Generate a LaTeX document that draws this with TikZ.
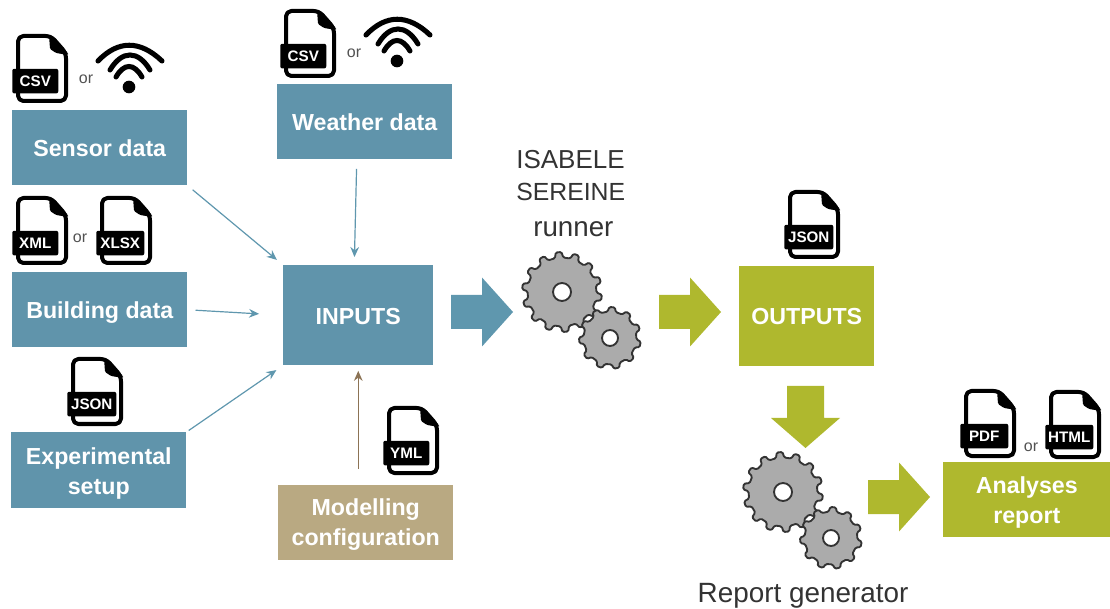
\documentclass[tikz,border=0pt]{standalone}
\usepackage{fontspec}
\setmainfont{Liberation Sans}
\definecolor{tealbox}{HTML}{6094AB}
\definecolor{greenbox}{HTML}{AFB82E}
\definecolor{tanbox}{HTML}{B9A982}
\definecolor{tealline}{HTML}{5F97AE}
\definecolor{brownline}{HTML}{8C7355}
\definecolor{gearfill}{HTML}{ABABAB}
\definecolor{geartext}{HTML}{333333}
\usetikzlibrary{arrows.meta}
\tikzset{
  x=0.75pt,y=-0.75pt,
  databox/.style={anchor=north west,inner sep=0pt,align=center,text=white,font=\fontsize{17.4pt}{22.5pt}\selectfont\bfseries},
  filebody/.style={draw=black,line width=3pt,line join=round,rounded corners=4pt,fill=white},
  filetag/.style={anchor=north west,fill=black,text=white,rounded corners=1.5pt,inner sep=0pt,minimum height=18.5pt,font=\fontsize{11.4pt}{12pt}\selectfont\bfseries},
  ortext/.style={text=geartext!85!white,font=\fontsize{12pt}{14pt}\selectfont,inner sep=0pt},
  wave/.style={draw=black,line width=3.8pt,line cap=round},
  thinarrow/.style={draw=tealline,line width=0.9pt,-{Stealth[length=7.5pt,width=6.5pt]}},
  brownarrow/.style={draw=brownline,line width=0.9pt,-{Stealth[length=7.5pt,width=6.5pt]}},
  gearshape/.style={draw=geartext,line width=1.4pt,fill=gearfill,line join=round,rounded corners=1pt},
  gearhole/.style={draw=geartext,line width=1.4pt,fill=white},
  bigtext/.style={text=geartext,inner sep=0pt,font=\fontsize{19.5pt}{25pt}\selectfont},
}
\newcommand{\lowered}[2]{\raisebox{-#1}[\height][\depth]{#2}}
\newcommand{\twolines}[3]{\lowered{#1}{\begin{tabular}{@{}c@{}}#2\\#3\end{tabular}}}
\newcommand{\fileicon}[5][46]{%
  \begin{scope}[shift={(#3,#4)}]
    \draw[filebody] (2,2) -- (35,2) -- (50,19) -- (50,67) -- (2,67) -- cycle;
    \fill[black,rounded corners=1pt] (33,1) -- (35,1) -- (52,19) -- (52,21) -- (40,19) -- (34,15) -- cycle;
    \node[filetag,minimum width=#1*0.75pt] (#2) at (-4,34.5) {#5};
  \end{scope}}
\newcommand{\wifi}[3]{%
  \begin{scope}[shift={(#2,#3)}]
    \draw[wave] (-31,-26) .. controls (-11,-47) and (11,-47) .. (33,-26);
    \draw[wave] (-19,-17) .. controls (-7,-37) and (9,-37) .. (21,-17);
    \draw[wave] (-13,-10) .. controls (-5,-24) and (5,-24) .. (13,-10);
    \node[circle,fill=black,inner sep=0pt,minimum size=9.5pt] (#1) at (0,0) {};
  \end{scope}}
\newcommand{\gearwheel}[7]{%
  \begin{scope}[shift={(#1,#2)}]
    \pgfmathsetmacro{\gs}{360/#5}
    \pgfmathtruncatemacro{\gn}{#5-1}
    \draw[gearshape] ({#6-.27*\gs}:#4)
      \foreach \gi [evaluate=\gi as \ga using #6+\gi*\gs] in {0,...,\gn} {
        -- ({\ga-.27*\gs}:#4) -- ({\ga-.16*\gs}:#3) -- ({\ga+.16*\gs}:#3) -- ({\ga+.27*\gs}:#4)
      } -- cycle;
    \draw[gearhole] (0,0) circle (#7);
  \end{scope}}
\newcommand{\gearpair}[2]{%
  \gearwheel{#1}{#2}{40}{34.5}{14}{8}{9}
  \gearwheel{#1+48}{#2+46}{31}{26.5}{11}{12}{8}}
\newcommand{\rightblock}[4]{%
  \fill[#1] (#2,#3-17) -- (#2+31,#3-17) -- (#2+31,#3-34.5) -- (#4,#3) -- (#2+31,#3+34.5) -- (#2+31,#3+17) -- (#2,#3+17) -- cycle;}
\begin{document}
\begin{tikzpicture}
\useasboundingbox (0,0) rectangle (1110,609);
% boxes
\node[databox,fill=tealbox,minimum width=131.25pt,minimum height=56.25pt] (sensor) at (12,110) {Sensor data};
\node[databox,fill=tealbox,minimum width=131.25pt,minimum height=56.25pt] (building) at (12,272) {\lowered{2.2pt}{Building data}};
\node[databox,fill=tealbox,minimum width=131.25pt,minimum height=57pt] (experimental) at (11,432) {\twolines{2.2pt}{Experimental}{setup}};
\node[databox,fill=tealbox,minimum width=131.25pt,minimum height=56.25pt] (weather) at (277,84) {Weather data};
\node[databox,fill=tealbox,minimum width=112.5pt,minimum height=75pt] (inputs) at (283,265) {\lowered{0.6pt}{INPUTS}};
\node[databox,fill=tanbox,minimum width=131.25pt,minimum height=56.25pt] (model) at (278,485) {\twolines{1.5pt}{Modelling}{configuration}};
\node[databox,fill=greenbox,minimum width=101.25pt,minimum height=75pt] (outputs) at (739,266) {OUTPUTS};
\node[databox,fill=greenbox,minimum width=125.25pt,minimum height=56.25pt] (report) at (943,462) {\twolines{2.2pt}{Analyses}{report}};
% icons
\fileicon{csvA}{16}{34}{CSV}
\fileicon{csvB}{284}{9}{CSV}
\fileicon{xml}{16}{196}{XML}
\fileicon[48]{xlsx}{100}{196}{XLSX}
\fileicon[49]{jsonA}{71}{357}{JSON}
\fileicon[49]{jsonB}{788}{190}{JSON}
\fileicon{yml}{387}{406}{YML}
\fileicon[48]{pdf}{964}{389}{PDF}
\fileicon[48]{html}{1049}{390}{HTML}
\wifi{wifiA}{129}{87}
\wifi{wifiB}{397}{61}
\node[ortext] (orA) at (86,79) {or};
\node[ortext] (orB) at (354,53) {or};
\node[ortext] (orC) at (80,238) {or};
\node[ortext] (orD) at (1031,447) {or};
% connectors
\draw[thinarrow,shorten <=5pt,shorten >=6pt] (sensor.south east) -- (inputs.north west);
\draw[thinarrow,shorten <=6pt,shorten >=18pt] (building.east) -- (inputs.west);
\draw[thinarrow,shorten <=2pt,shorten >=6pt] (experimental.north east) -- (inputs.south west);
\coordinate (weatherOut) at ([xshift=-6pt]weather.south);
\coordinate (inputsTop) at ([xshift=-3pt]inputs.north);
\draw[thinarrow,shorten <=7pt,shorten >=6pt] (weatherOut) -- (inputsTop);
\coordinate (modelOut) at (inputs.south |- model.north);
\draw[brownarrow,shorten <=12pt,shorten >=4pt] (modelOut) -- (inputs.south);
% block arrows
\rightblock{tealline}{451}{312}{513}
\rightblock{greenbox}{659}{312}{721}
\rightblock{greenbox}{868}{497}{930}
\fill[greenbox] (787,386) -- (824,386) -- (824,418) -- (840,418) -- (805.5,448) -- (771,418) -- (787,418) -- cycle;
% gears
\gearpair{562}{292}
\gearpair{783}{492}
% labels
\node[bigtext,anchor=west] (isabele) at (516,160) {ISABELE};
\node[bigtext,anchor=west,font=\fontsize{18.6pt}{25pt}\selectfont] (sereine) at (516,192) {SEREINE};
\node[bigtext,anchor=west,font=\fontsize{20.8pt}{25pt}\selectfont] (runner) at (533,229) {runner};
\node[bigtext,font=\fontsize{20.9pt}{25pt}\selectfont] (generator) at (803,596) {Report generator};
\end{tikzpicture}
\end{document}
